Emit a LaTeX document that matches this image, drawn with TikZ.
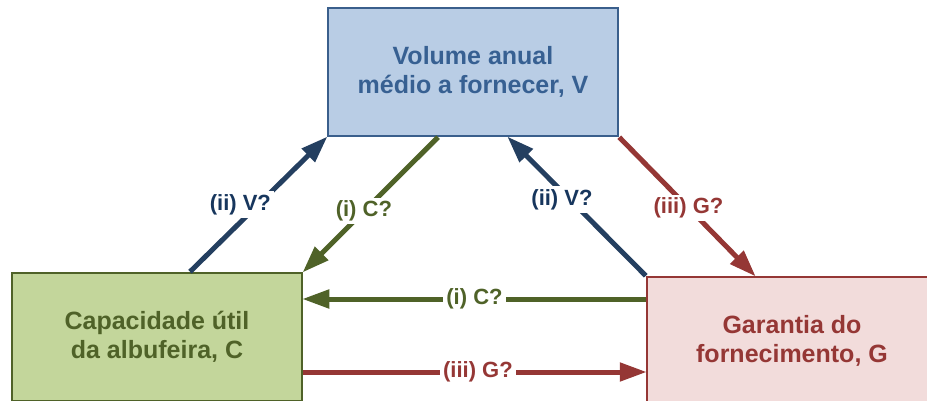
\documentclass[tikz,border=0pt]{standalone}
\usepackage{fontspec}
\setmainfont{Liberation Sans}
\usepackage{xcolor}
\usetikzlibrary{positioning,arrows.meta}

\definecolor{vfill}{HTML}{B9CDE5}
\definecolor{vline}{HTML}{3A5F8C}
\definecolor{vtext}{HTML}{376092}
\definecolor{cfill}{HTML}{C3D69B}
\definecolor{cline}{HTML}{4F6228}
\definecolor{gfill}{HTML}{F2DCDB}
\definecolor{gline}{HTML}{953735}
\definecolor{navy}{HTML}{243F60}
\definecolor{navytext}{HTML}{17365D}

\begin{document}
\begin{tikzpicture}[x=1pt,y=-1pt,
    boxnode/.style={rectangle, line width=2.5pt, minimum width=290pt, minimum height=128pt, align=center, font=\fontsize{25}{29}\selectfont\bfseries},
    link/.style={line width=5pt, -{Triangle[length=27pt,width=18pt]}, shorten >=-1pt},
    tag/.style={fill=white, inner sep=3pt, font=\fontsize{22}{26}\selectfont\bfseries},]
            \useasboundingbox (0,0) rectangle (927,401);
            %Nodes
            \node[boxnode, draw=vline, fill=vfill, text=vtext](vbox) at (473,72){Volume anual\\médio a fornecer, V};
            \node[boxnode, draw=cline, fill=cfill, text=cline](cbox) at (157,337){Capacidade útil\\da albufeira, C};
            \node[boxnode, draw=gline, fill=gfill, text=gline](gbox) at (792,341){Garantia do\\fornecimento, G};

            %Lines
            \draw[link, navy]([xshift=33pt]cbox.north)--(vbox.south west)
                node[tag, text=navytext, pos=0.5, xshift=-18pt]{(ii) V?};
            \draw[link, cline]([xshift=-35pt]vbox.south)--(cbox.north east)
                node[tag, text=cline, pos=0.55]{(i) C?};
            \draw[link, navy](gbox.north west)--([xshift=35pt]vbox.south)
                node[tag, text=navytext, pos=0.55, xshift=-8pt]{(ii) V?};
            \draw[link, gline](vbox.south east)--([xshift=-37pt]gbox.north)
                node[tag, text=gline, pos=0.51]{(iii) G?};
            \draw[link, cline]([yshift=42pt]gbox.west)--([yshift=38pt]cbox.east)
                node[tag, text=cline, pos=0.5]{(i) C?};
            \draw[link, gline]([yshift=-35pt]cbox.east)--([yshift=-31pt]gbox.west)
                node[tag, text=gline, pos=0.51]{(iii) G?};
\end{tikzpicture}
\end{document}
